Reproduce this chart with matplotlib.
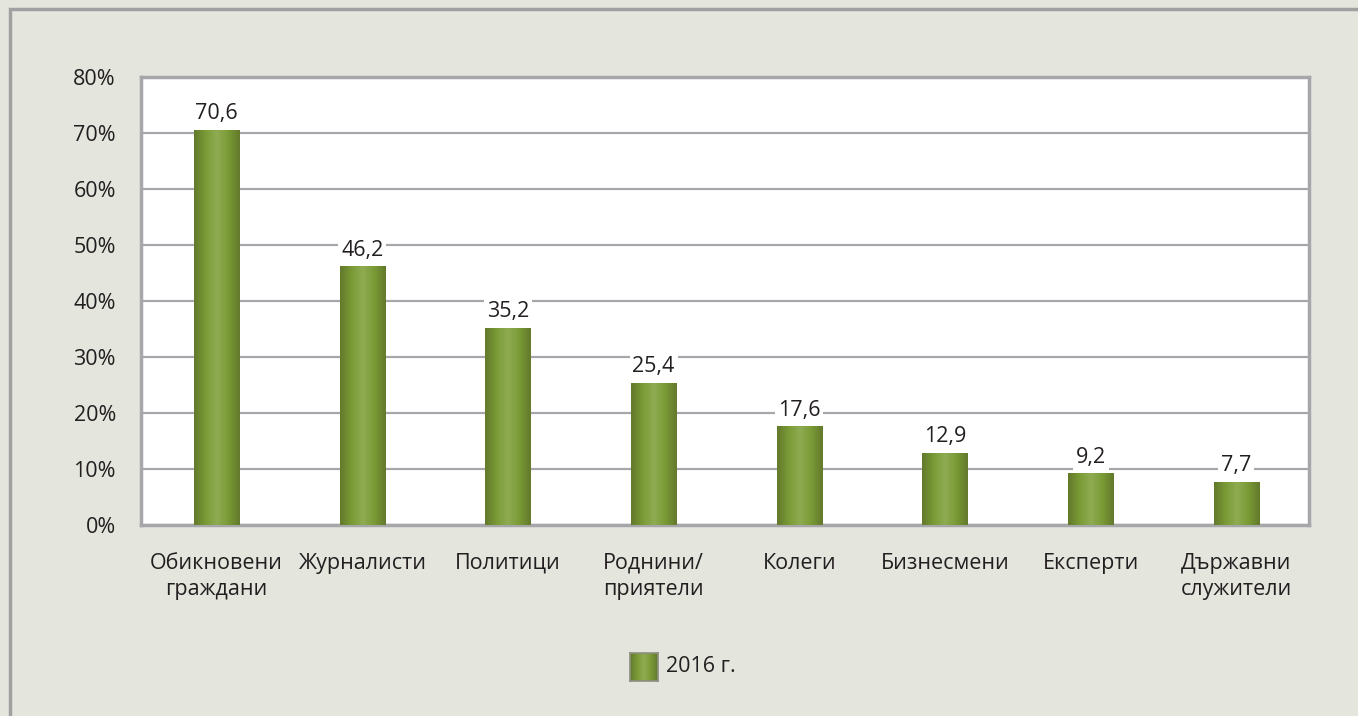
import numpy as np
import matplotlib.pyplot as plt
from matplotlib.colors import LinearSegmentedColormap
from matplotlib.patches import Rectangle

plt.rcParams['font.family'] = ['Open Sans', 'DejaVu Sans']

categories = ["Обикновени\nграждани", "Журналисти", "Политици", "Роднини/\nприятели",
              "Колеги", "Бизнесмени", "Експерти", "Държавни\nслужители"]
values = [70.6, 46.2, 35.2, 25.4, 17.6, 12.9, 9.2, 7.7]
yticks = [0, 10, 20, 30, 40, 50, 60, 70, 80]
legend_label = "2016 г."

bg = "#e4e6de"
grid_c = "#a7a7ab"
text_c = "#231f20"
fs = 15.5
green = LinearSegmentedColormap.from_list(
    "g", ["#637a2c", "#7a9a36", "#8fac52", "#7a9a36", "#637a2c"])

fig = plt.figure(figsize=(13.58, 7.16), dpi=100, facecolor=bg)
# outer frame
fig.patches.append(Rectangle((10 / 1358, -0.05), 1.2, (716 - 9) / 716 + 0.05,
                             transform=fig.transFigure, fill=False,
                             edgecolor="#a0a0a0", linewidth=2.5))

ax = fig.add_axes([141 / 1358, 1 - 525 / 716, 1168 / 1358, 448 / 716])
ax.set_facecolor("white")

x = np.arange(len(categories))
bw = 0.31
bars = ax.bar(x, values, width=bw, color="#7a9a36", zorder=2)
grad = np.linspace(0, 1, 64).reshape(1, -1)
for b in bars:
    im = ax.imshow(grad, cmap=green, aspect="auto", zorder=3,
                   extent=[b.get_x(), b.get_x() + b.get_width(), 0, b.get_height()])
    im.set_clip_path(b)

for xi, v in zip(x, values):
    ax.text(xi, v + 1.0, f"{v:.1f}".replace(".", ","), ha="center", va="bottom",
            fontsize=fs, color=text_c, zorder=4,
            bbox=dict(facecolor="white", edgecolor="none", pad=2))

ax.set_xlim(-0.518, 7.498)
ax.set_ylim(0, 80)
ax.set_yticks(yticks)
ax.set_yticklabels([f"{t}%" for t in yticks], fontsize=fs, color=text_c)
ax.set_xticks(x)
ax.set_xticklabels(categories, fontsize=fs, color=text_c, linespacing=1.3)
ax.tick_params(axis="both", length=0)
ax.tick_params(axis="y", pad=18)
ax.tick_params(axis="x", pad=20)
ax.yaxis.grid(True, color=grid_c, linewidth=1.6, zorder=1)
ax.set_axisbelow(True)
for s in ax.spines.values():
    s.set_color(grid_c)
    s.set_linewidth(2.5)

# legend
lx, ly = 630 / 1358, 1 - 681 / 716
lax = fig.add_axes([lx, ly, 28 / 1358, 28 / 716])
lax.imshow(grad, cmap=green, aspect="auto", extent=[0, 1, 0, 1])
lax.set_xticks([])
lax.set_yticks([])
for s in lax.spines.values():
    s.set_color("#8a8f80")
    s.set_linewidth(1.2)
fig.text(666 / 1358, 1 - 667 / 716, legend_label, fontsize=fs, color=text_c,
         ha="left", va="center")

fig.savefig("out.png", dpi=100, facecolor=bg)
